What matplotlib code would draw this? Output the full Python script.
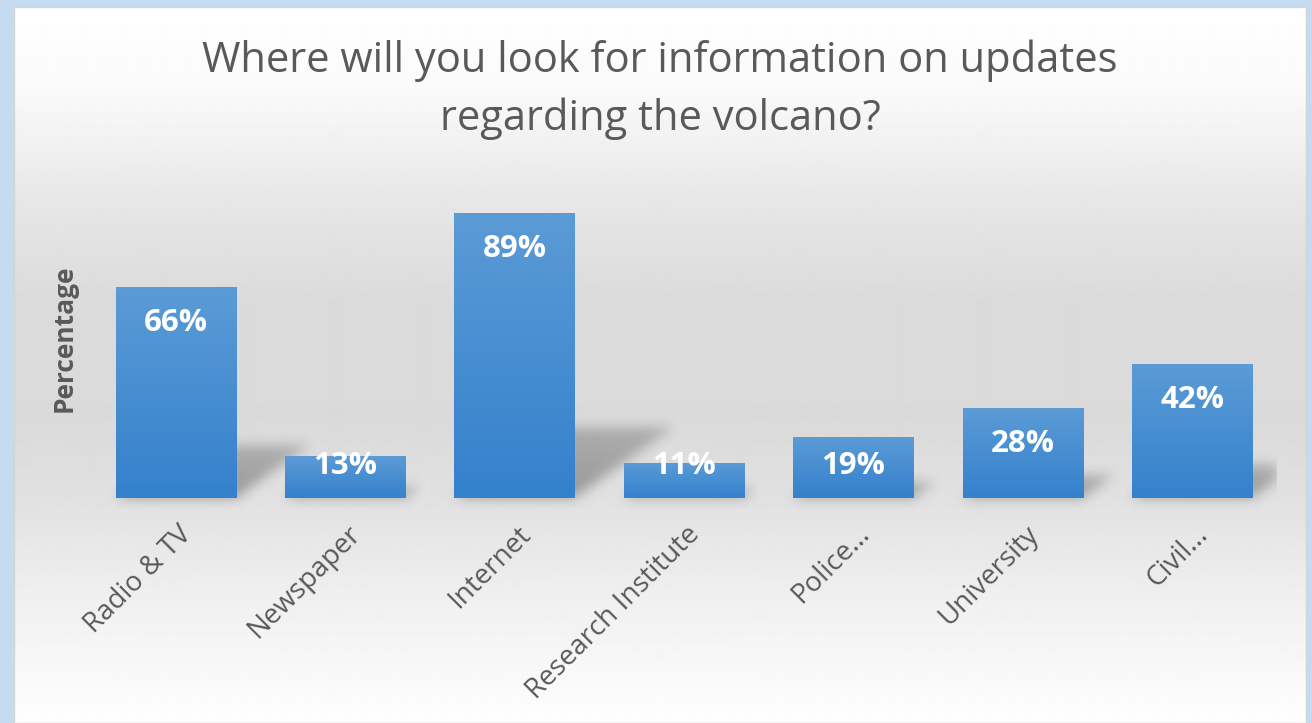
import numpy as np
import matplotlib.pyplot as plt
from matplotlib.colors import LinearSegmentedColormap
from matplotlib.patches import Rectangle
from matplotlib.transforms import ScaledTranslation

categories = ['Radio & TV', 'Newspaper', 'Internet', 'Research Institute',
              'Police...', 'University', 'Civil...']
values = [66, 13, 89, 11, 19, 28, 42]
value_labels = ['66%', '13%', '89%', '11%', '19%', '28%', '42%']

plt.rcParams['font.family'] = ['Open Sans', 'DejaVu Sans']

W, H = 1312, 723
fig = plt.figure(figsize=(W / 100, H / 100), dpi=100, facecolor='#c5dbf0')

# panel with vertical grey gradient
px0, px1, py0 = 14, 1306, 7
bg = fig.add_axes([px0 / W, 0, (px1 - px0) / W, (H - py0) / H])
bg.set_axis_off()
ys = np.arange(py0, H)
stops_y = [7, 90, 200, 300, 420, 500, 600, 723]
stops_v = [255, 250, 231, 219, 218, 225, 240, 254]
col = np.interp(ys, stops_y, stops_v) / 255
bg.imshow(np.repeat(col[:, None], 2, axis=1), cmap='gray', vmin=0, vmax=1,
          aspect='auto', extent=[0, 1, 0, 1], interpolation='bilinear')
fig.patches.append(Rectangle((px0 / W, 0), (px1 - px0) / W, (H - py0) / H,
                             transform=fig.transFigure, fill=False,
                             edgecolor='#d4d4d4', lw=1))

# main axes
ax = fig.add_axes([91 / W, (H - 498) / H, 1186 / W, 320 / H])
ax.patch.set_alpha(0)
for s in ax.spines.values():
    s.set_visible(False)

bw = 0.71
x = np.arange(len(values))

# blurred perspective shadows
nx, ny = 1186, 360
xs = np.linspace(-0.5, 6.5, nx)
yy = np.linspace(-12.5, 100, ny)
X, Y = np.meshgrid(xs, yy)
mask = np.zeros_like(X)
for i, v in enumerate(values):
    sh = 0.25 * v
    dx = 0.0066 * v
    t = Y / sh
    inside = (Y >= 0) & (Y <= sh) & (X >= i - bw / 2 + dx * t) & (X <= i + bw / 2 + dx * t)
    mask[inside] = np.maximum(mask[inside], 1 - 0.35 * t[inside])
k = np.exp(-0.5 * (np.arange(-18, 19) / 6.0) ** 2)
k /= k.sum()
mask = np.apply_along_axis(lambda r: np.convolve(r, k, mode='same'), 1, mask)
mask = np.apply_along_axis(lambda c: np.convolve(c, k, mode='same'), 0, mask)
rgba = np.zeros((ny, nx, 4))
rgba[..., 3] = mask * 0.32
ax.imshow(rgba, origin='lower', extent=[-0.5, 6.5, -12.5, 100], aspect='auto',
          zorder=1, clip_on=False)

# bars with gradient fill
bars = ax.bar(x, values, width=bw, color='#4a8fd2', zorder=2)
cmap = LinearSegmentedColormap.from_list('blue', ['#3481cc', '#5b9bd6'])
grad = np.linspace(0, 1, 100)[:, None]
for b in bars:
    x0, w, h = b.get_x(), b.get_width(), b.get_height()
    im = ax.imshow(grad, cmap=cmap, origin='lower', extent=[x0, x0 + w, 0, h],
                   aspect='auto', zorder=2.5)
    im.set_clip_path(b)

for i, v in enumerate(values):
    ax.text(i, max(v - 11.25, 10), value_labels[i], ha='center', va='center',
            color='white', fontsize=22.5, fontweight='bold', zorder=4)

ax.set_xlim(-0.5, 6.5)
ax.set_ylim(0, 100)
ax.set_yticks([])
ax.set_xticks(x, categories, rotation=45, ha='right', rotation_mode='anchor',
              fontsize=20, color='#595959')
ax.tick_params(axis='x', length=0, pad=16)
for lab in ax.get_xticklabels():
    lab.set_transform(lab.get_transform() + ScaledTranslation(0.02, 0, fig.dpi_scale_trans))

ax.set_ylabel('Percentage', fontsize=19, fontweight='bold', color='#595959')
ax.yaxis.set_label_coords(-0.011, 0.5)

fig.text(660 / W, 1 - 61 / H, 'Where will you look for information on updates',
         ha='center', va='center', fontsize=30, color='#595959')
fig.text(660 / W, 1 - 119 / H, 'regarding the volcano?',
         ha='center', va='center', fontsize=30, color='#595959')

fig.savefig('out.png', dpi=100, facecolor=fig.get_facecolor())
